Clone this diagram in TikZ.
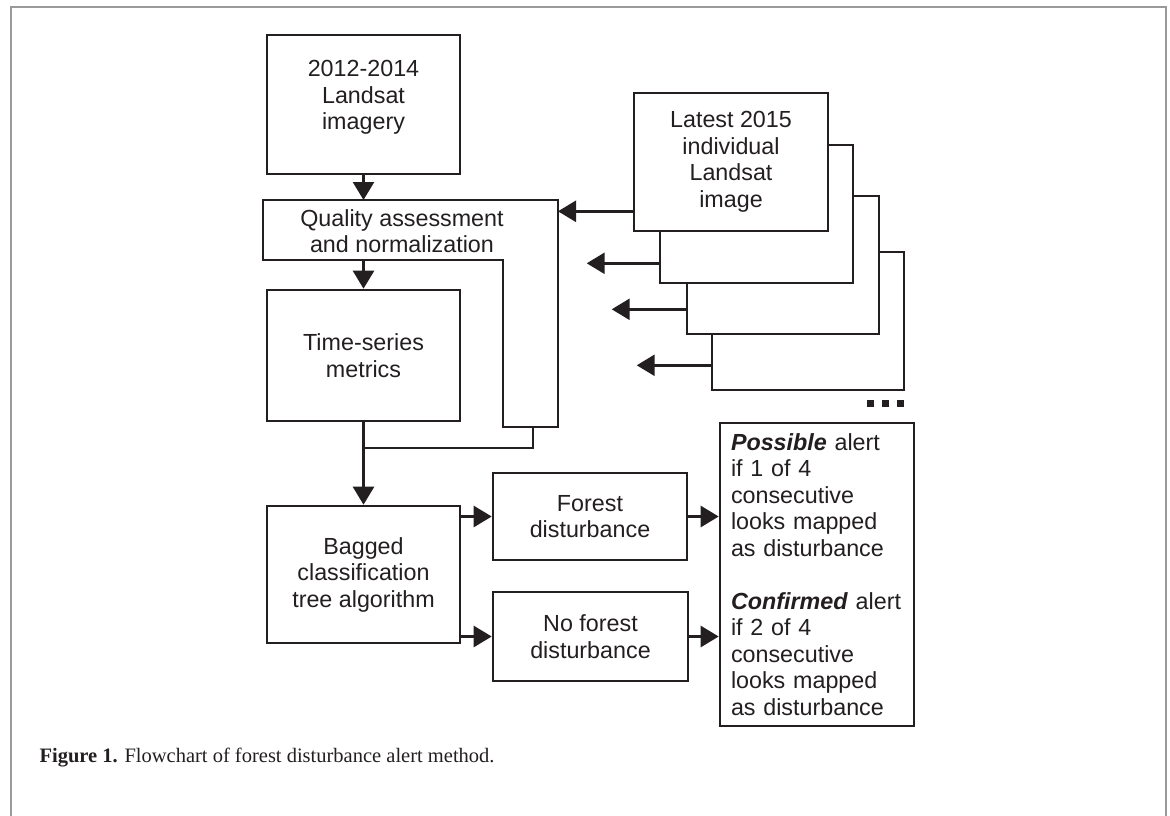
\documentclass[tikz,border=0pt]{standalone}
\usepackage{fontspec}
\setmainfont{Liberation Sans}
\newfontfamily\capfont{Liberation Serif}
\usetikzlibrary{arrows.meta}
\definecolor{ink}{HTML}{231F20}
\definecolor{framegray}{HTML}{9A9A9A}

\begin{document}
\begin{tikzpicture}[x=1pt, y=-1pt,
		box/.style={draw=ink, line width=2.6pt, fill=white, align=center, text=ink, inner sep=0pt, font=\fontsize{23.3}{26.5}\selectfont},
		flow/.style={draw=ink, line width=2.6pt, -{Triangle[length=18pt, width=21pt]}},
		wire/.style={draw=ink, line width=2.6pt}]

				\useasboundingbox (0,0) rectangle (1170,816);
				\draw [framegray, line width=2pt] (11,840) -- (11,7) -- (1166,7) -- (1166,840);

				% left column
				\node [box, minimum width=193pt, minimum height=139pt] (imagery) at (363.5,104.5) {2012-2014\\Landsat\\imagery\\[-8pt]};

				\coordinate (qa nw) at (263,200);
				\coordinate (qa ne) at (558,200);
				\coordinate (qa se) at (558,427);
				\coordinate (qa tail) at (533,427);
				\coordinate (qa sm) at (503,427);
				\coordinate (qa im) at (503,260);
				\coordinate (qa sw) at (263,260);
				\draw [wire, line join=miter] (qa nw) -- (qa ne) -- (qa se) -- (qa sm) -- (qa im) -- (qa sw) -- cycle;
				\node [align=center, text=ink, font=\fontsize{23.3}{26.5}\selectfont] (quality) at (402,231) {Quality assessment\\and normalization};

				\node [box, minimum width=193pt, minimum height=131pt] (series) at (363.5,355.5) {Time-series\\metrics};
				\node [box, minimum width=193pt, minimum height=137pt] (bagged) at (363.5,574.5) {Bagged\\classification\\tree algorithm};

				\draw [flow] (imagery.south) -- (imagery.south |- qa nw);
				\draw [flow] (series.north |- qa sw) -- (series.north);
				\draw [flow] (series.south) -- (bagged.north);
				\coordinate (join) at (363.5,448);
				\draw [wire] (qa tail) |- (join);

				% stack of 2015 images
				\node [box, minimum width=192pt, minimum height=138pt] (latest4) at (808,321) {};
				\node [box, minimum width=192pt, minimum height=138pt] (latest3) at (783,265) {};
				\node [box, minimum width=193pt, minimum height=138pt] (latest2) at (756.5,214) {};
				\node [box, minimum width=194pt, minimum height=138pt] (latest) at (731,162) {Latest 2015\\individual\\Landsat\\image};

				\coordinate (l1 out) at ([yshift=21pt]latest.south west);
				\draw [flow] (l1 out) -- (l1 out -| qa ne);
				\draw [flow] ([yshift=21pt]latest2.south west) -- ++(-72,0);
				\draw [flow] ([yshift=26pt]latest3.south west) -- ++(-74,0);
				\draw [flow] ([yshift=26pt]latest4.south west) -- ++(-74,0);

				\fill [ink] (867,400) rectangle ++(7,7);
				\fill [ink] (882,400) rectangle ++(7,7);
				\fill [ink] (897,400) rectangle ++(7,7);

				% outcomes
				\node [box, minimum width=194pt, minimum height=303pt, align=left, text width=172pt, inner xsep=11pt, inner ysep=0pt] (alert) at (817,574.5) {\textbf{\textit{Possible}} alert\\if 1 of 4\\consecutive\\looks mapped\\as disturbance\\[26.5pt]\textbf{\textit{Confirmed}} alert\\if 2 of 4\\consecutive\\looks mapped\\as disturbance\\[-6pt]};
				\node [box, minimum width=194pt, minimum height=87pt] (forest) at (590,516.5) {Forest\\disturbance};
				\node [box, minimum width=195pt, minimum height=89pt] (noforest) at (590.5,636.5) {No forest\\disturbance};

				\draw [flow] (bagged.east |- forest.west) -- (forest.west);
				\draw [flow] (bagged.east |- noforest.west) -- (noforest.west);
				\draw [flow] (forest.east) -- (forest.east -| alert.west);
				\draw [flow] (noforest.east) -- (noforest.east -| alert.west);

				\node [anchor=west, text=ink, font=\capfont\fontsize{20.5}{24}\selectfont] (caption) at (36,758) {\textbf{Figure 1.} Flowchart of forest disturbance alert method.};

		\end{tikzpicture}
\end{document}
